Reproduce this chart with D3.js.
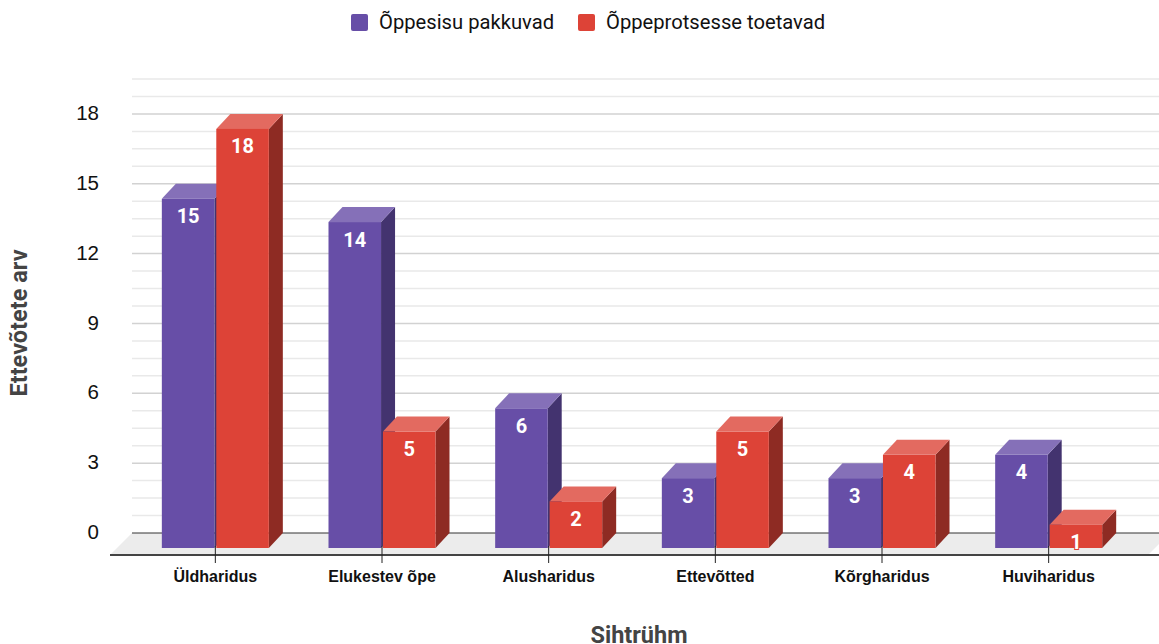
<!DOCTYPE html>
<html>
<head>
<meta charset="utf-8">
<script src="https://cdn.jsdelivr.net/npm/d3@7"></script>
<style>
  html, body { margin: 0; padding: 0; background: #fff; }
  svg { display: block; font-family: Roboto, sans-serif; }
</style>
</head>
<body>
<div id="chart"></div>
<script>
const categories = ['Üldharidus', 'Elukestev õpe', 'Alusharidus', 'Ettevõtted', 'Kõrgharidus', 'Huviharidus'];
const seriesNames = ['Õppesisu pakkuvad', 'Õppeprotsesse toetavad'];
const contentValues = [15, 14, 6, 3, 3, 4];
const supportValues = [18, 5, 2, 5, 4, 1];
const yTicks = [0, 3, 6, 9, 12, 15, 18];
const gridStep = 0.75;
const yMax = 19.5;

const width = 1159, height = 644;
// 3D offset between the front face and the back wall
const depthX = 14, depthY = 15;
const baseY = 533, floorY = 555;

const colors = [
  { front: '#674ea7', side: '#43336f', top: '#8570b8' },
  { front: '#dd4337', side: '#8e2b23', top: '#e36a60' }
];

const svg = d3.select('#chart').append('svg')
  .attr('width', width)
  .attr('height', height);

const xScale = d3.scaleBand()
  .domain(categories)
  .range([132, 1132]);

const seriesScale = d3.scaleBand()
  .domain(seriesNames)
  .range([-53.5, 53.5])
  .paddingInner(0.035);

const yScale = d3.scaleLinear()
  .domain([0, yMax])
  .range([baseY, 79]);

// Floor
svg.append('polygon')
  .attr('points', `110,${floorY} 132,${baseY} 1170,${baseY} 1148,${floorY}`)
  .attr('fill', '#ececec');

// Grid lines
d3.range(gridStep, yMax + 0.01, gridStep).forEach(v => {
  const major = yTicks.includes(v);
  svg.append('line')
    .attr('x1', 132)
    .attr('x2', width)
    .attr('y1', yScale(v))
    .attr('y2', yScale(v))
    .attr('stroke', major ? '#d2d2d2' : '#e9e9e9')
    .attr('stroke-width', 1.5);
});

svg.append('line')
  .attr('x1', 132)
  .attr('x2', width)
  .attr('y1', baseY)
  .attr('y2', baseY)
  .attr('stroke', '#333')
  .attr('stroke-width', 1);

svg.append('line')
  .attr('x1', 110)
  .attr('x2', width)
  .attr('y1', floorY)
  .attr('y2', floorY)
  .attr('stroke', '#444')
  .attr('stroke-width', 2);

// Y axis
const yAxis = d3.axisLeft(yScale)
  .tickValues(yTicks)
  .tickSize(0)
  .tickPadding(33);

const yG = svg.append('g')
  .attr('transform', 'translate(132,-1)')
  .call(yAxis);
yG.select('.domain').remove();
yG.selectAll('text')
  .attr('fill', '#111')
  .style('font-size', '20.5px');

// Bars
const allValues = [contentValues, supportValues];
categories.forEach((cat, i) => {
  const cx = xScale(cat) + xScale.bandwidth() / 2;
  seriesNames.forEach((name, s) => {
    const x0 = cx + seriesScale(name);
    const x1 = x0 + seriesScale.bandwidth();
    const y0 = yScale(allValues[s][i]) + depthY;
    const y1 = baseY + depthY;
    const c = colors[s];

    svg.append('polygon')
      .attr('points', `${x1},${y0} ${x1 + depthX},${y0 - depthY} ${x1 + depthX},${y1 - depthY} ${x1},${y1}`)
      .attr('fill', c.side);

    svg.append('polygon')
      .attr('points', `${x0},${y0} ${x0 + depthX},${y0 - depthY} ${x1 + depthX},${y0 - depthY} ${x1},${y0}`)
      .attr('fill', c.top);

    svg.append('rect')
      .attr('x', x0)
      .attr('y', y0)
      .attr('width', x1 - x0)
      .attr('height', y1 - y0)
      .attr('fill', c.front);

    svg.append('text')
      .attr('x', (x0 + x1) / 2)
      .attr('y', y0 + 24.5)
      .attr('text-anchor', 'middle')
      .attr('fill', '#fff')
      .attr('stroke', c.front)
      .attr('stroke-width', 2)
      .attr('paint-order', 'stroke')
      .style('font-size', '20px')
      .style('font-weight', 700)
      .text(allValues[s][i]);
  });
});

// X axis ticks and labels
const xAxis = d3.axisBottom(xScale)
  .tickSize(17)
  .tickPadding(8)
  .tickSizeOuter(0);

const xG = svg.append('g')
  .attr('transform', 'translate(0,546)')
  .call(xAxis);
xG.select('.domain').remove();
xG.selectAll('line').attr('stroke', '#222').attr('stroke-width', 1);
xG.selectAll('text')
  .attr('fill', '#111')
  .style('font-size', '16px')
  .style('font-weight', 700);

// Axis titles
svg.append('text')
  .attr('x', 639)
  .attr('y', 642.5)
  .attr('text-anchor', 'middle')
  .attr('fill', '#444')
  .style('font-size', '23.5px')
  .style('font-weight', 700)
  .text('Sihtrühm');

svg.append('text')
  .attr('transform', 'translate(27,323) rotate(-90)')
  .attr('text-anchor', 'middle')
  .attr('fill', '#444')
  .style('font-size', '23.5px')
  .style('font-weight', 700)
  .text('Ettevõtete arv');

// Legend
const legendX = [351, 578];
seriesNames.forEach((name, s) => {
  svg.append('rect')
    .attr('x', legendX[s])
    .attr('y', 14)
    .attr('width', 17)
    .attr('height', 17)
    .attr('rx', 2)
    .attr('fill', colors[s].front);

  svg.append('text')
    .attr('x', legendX[s] + 28)
    .attr('y', 29)
    .attr('fill', '#111')
    .style('font-size', '20.2px')
    .text(name);
});
</script>
</body>
</html>
